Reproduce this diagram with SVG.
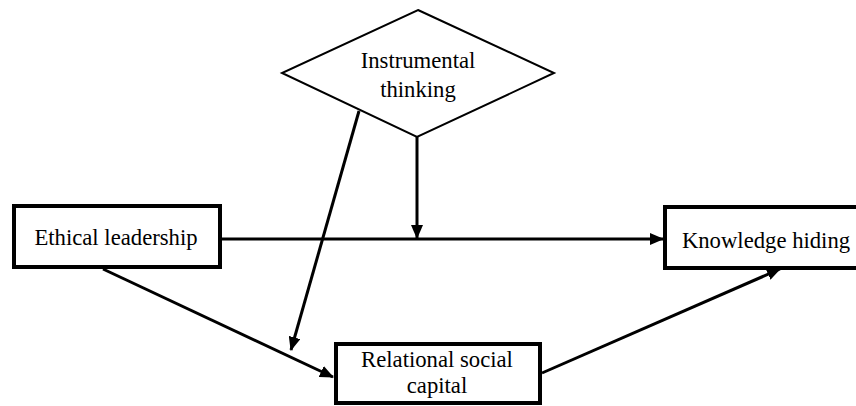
<svg xmlns="http://www.w3.org/2000/svg" width="856" height="406" viewBox="0 0 856 406">
<style>
.box{fill:#fff;stroke:#000;stroke-width:4}
.dia{fill:#fff;stroke:#000;stroke-width:2}
.t{font-family:"Liberation Serif","Times New Roman",serif;font-size:22.7px;fill:#000;text-anchor:middle}
.c{stroke:#000;stroke-width:3;fill:none;marker-end:url(#ah)}
</style>
<defs>
<marker id="ah" markerUnits="userSpaceOnUse" markerWidth="14" markerHeight="12" viewBox="0 0 14 12" refX="13" refY="6" orient="auto">
<path d="M0,0 L14,6 L0,12 Z" fill="#000"/>
</marker>
</defs>
<rect width="856" height="406" fill="#fff"/>
<g id="instrumental-thinking">
<polygon class="dia" points="418,10 554,73 417,137 282,73"/>
<text class="t" x="418" y="68">Instrumental</text>
<text class="t" x="418" y="97">thinking</text>
</g>
<g id="ethical-leadership">
<rect class="box" x="14" y="206" width="206" height="61"/>
<text class="t" x="116" y="245">Ethical leadership</text>
</g>
<g id="knowledge-hiding">
<rect class="box" x="665" y="207" width="200" height="61"/>
<text class="t" x="766" y="248">Knowledge hiding</text>
</g>
<g id="relational-social-capital">
<rect class="box" x="336" y="344" width="204" height="59"/>
<text class="t" x="437" y="367">Relational social</text>
<text class="t" x="437" y="393">capital</text>
</g>
<g id="connectors">
<line class="c" x1="222" y1="239" x2="663" y2="239"/>
<line class="c" x1="417" y1="137" x2="417" y2="238"/>
<line class="c" x1="359" y1="111" x2="291" y2="350"/>
<line class="c" x1="103" y1="269" x2="333" y2="377"/>
<line class="c" x1="542" y1="373" x2="780" y2="269"/>
</g>
</svg>
